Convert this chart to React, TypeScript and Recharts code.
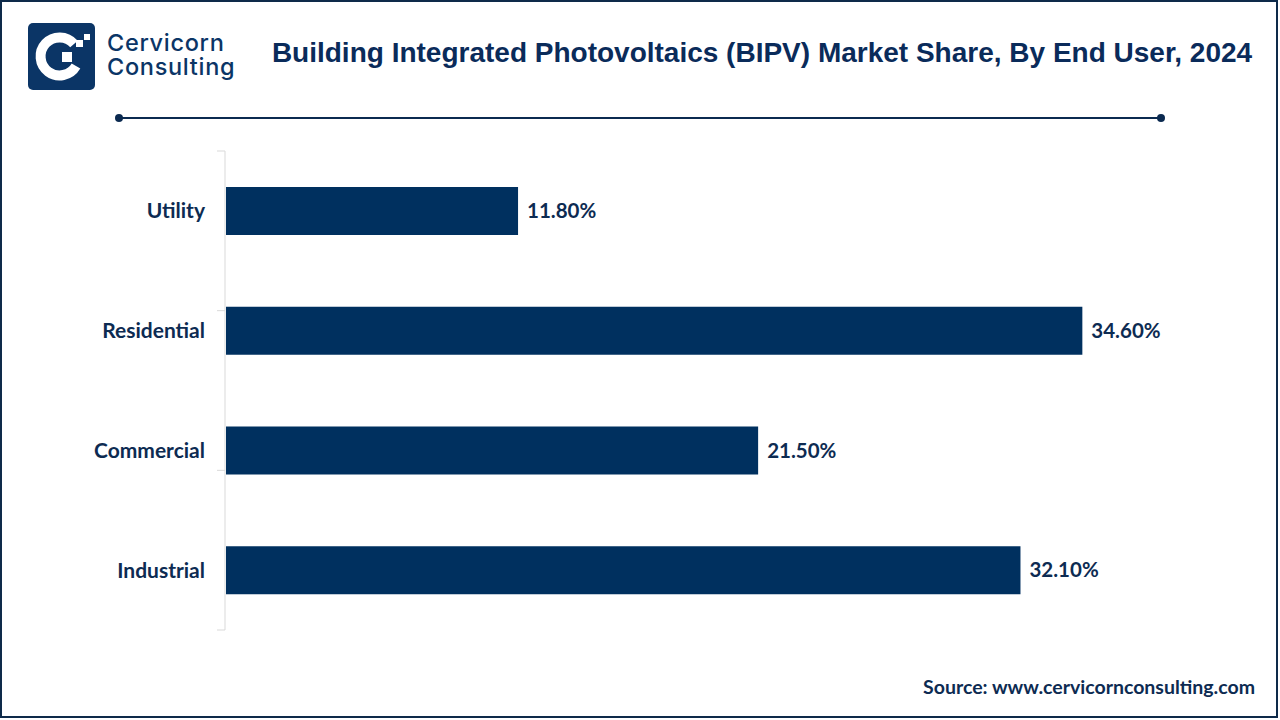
import React from 'react';
import { BarChart, Bar, XAxis, YAxis, LabelList } from 'recharts';

const categories = ['Utility', 'Residential', 'Commercial', 'Industrial'];
const shares = [11.8, 34.6, 21.5, 32.1];
const boundaryTicks = [0, 1, 2, 3, 4];

const NAVY = '#00305F';
const TEXT = '#0D2B52';

const data = categories.map((c, i) => ({ name: c, value: shares[i] }));

export default function App() {
  return (
    <div style={{ position: 'absolute', left: 0, top: 0, width: 1280, height: 720, background: '#fff', overflow: 'hidden' }}>
      <svg width={1280} height={720} style={{ position: 'absolute', left: 0, top: 0 }}>
        <rect x={1} y={1} width={1276} height={716} fill="#fff" stroke="#0E2A4A" strokeWidth={2} />
        {/* logo */}
        <rect x={28} y={23} width={67} height={67} rx={5} fill="#0B3566" />
        <path d="M 74 44 A 19 19 0 1 0 76 66" fill="none" stroke="#fff" strokeWidth={10} />
        <rect x={62} y={52} width={10} height={10} fill="#fff" />
        <rect x={76} y={40} width={7} height={7} fill="#fff" />
        <rect x={84} y={34} width={6} height={6} fill="#fff" />
        <text fontFamily="Inter, 'Open Sans', sans-serif" fontSize={23.5} letterSpacing={0.7} fontWeight={500} fill="#0B3566">
          <tspan x={107} y={51}>Cervicorn</tspan>
          <tspan x={107} y={75}>Consulting</tspan>
        </text>
        {/* title */}
        <text x={762} y={62} textAnchor="middle" fontFamily="'Liberation Sans', Arial, sans-serif" fontSize={28} fontWeight={700} fill="#0A2B5A">
          Building Integrated Photovoltaics (BIPV) Market Share, By End User, 2024
        </text>
        {/* rule */}
        <line x1={118} y1={118} x2={1161} y2={118} stroke="#0B2A50" strokeWidth={2} />
        <circle cx={119} cy={118} r={4} fill="#0B2A50" />
        <circle cx={1161} cy={118} r={4} fill="#0B2A50" />
        {/* source */}
        <text x={1255} y={694} textAnchor="end" fontFamily="Lato, 'Open Sans', sans-serif" fontSize={19.5} fontWeight={700} fill={TEXT}>
          Source: www.cervicornconsulting.com
        </text>
      </svg>
      <div style={{ position: 'absolute', left: 0, top: 0 }}>
        <BarChart
          width={1280}
          height={720}
          data={data}
          layout="vertical"
          margin={{ top: 151, bottom: 90, left: 0, right: 64 }}
          barCategoryGap="30%"
        >
          <XAxis type="number" domain={[0, 40]} hide />
          <YAxis
            yAxisId="grid"
            type="number"
            domain={[0, 4]}
            ticks={boundaryTicks}
            tickCount={5}
            interval={0}
            allowDataOverflow
            width={225}
            axisLine={{ stroke: '#D9D9D9', strokeWidth: 1 }}
            tickLine={{ stroke: '#D9D9D9', strokeWidth: 1 }}
            tickSize={8}
            tickFormatter={() => ''}
          />
          <YAxis
            yAxisId={0}
            type="category"
            dataKey="name"
            width={1}
            axisLine={false}
            tickLine={false}
            tickMargin={15}
            interval={0}
            tick={{ fill: TEXT, fontSize: 21, fontWeight: 700, fontFamily: 'Lato, sans-serif' }}
          />
          <Bar yAxisId={0} dataKey="value" fill={NAVY} isAnimationActive={false}>
            <LabelList
              dataKey="value"
              position="right"
              offset={9}
              formatter={(v: number) => `${v.toFixed(2)}%`}
              style={{ fill: TEXT, fontSize: 20.5, fontWeight: 700, fontFamily: 'Lato, sans-serif' }}
            />
          </Bar>
        </BarChart>
      </div>
    </div>
  );
}
